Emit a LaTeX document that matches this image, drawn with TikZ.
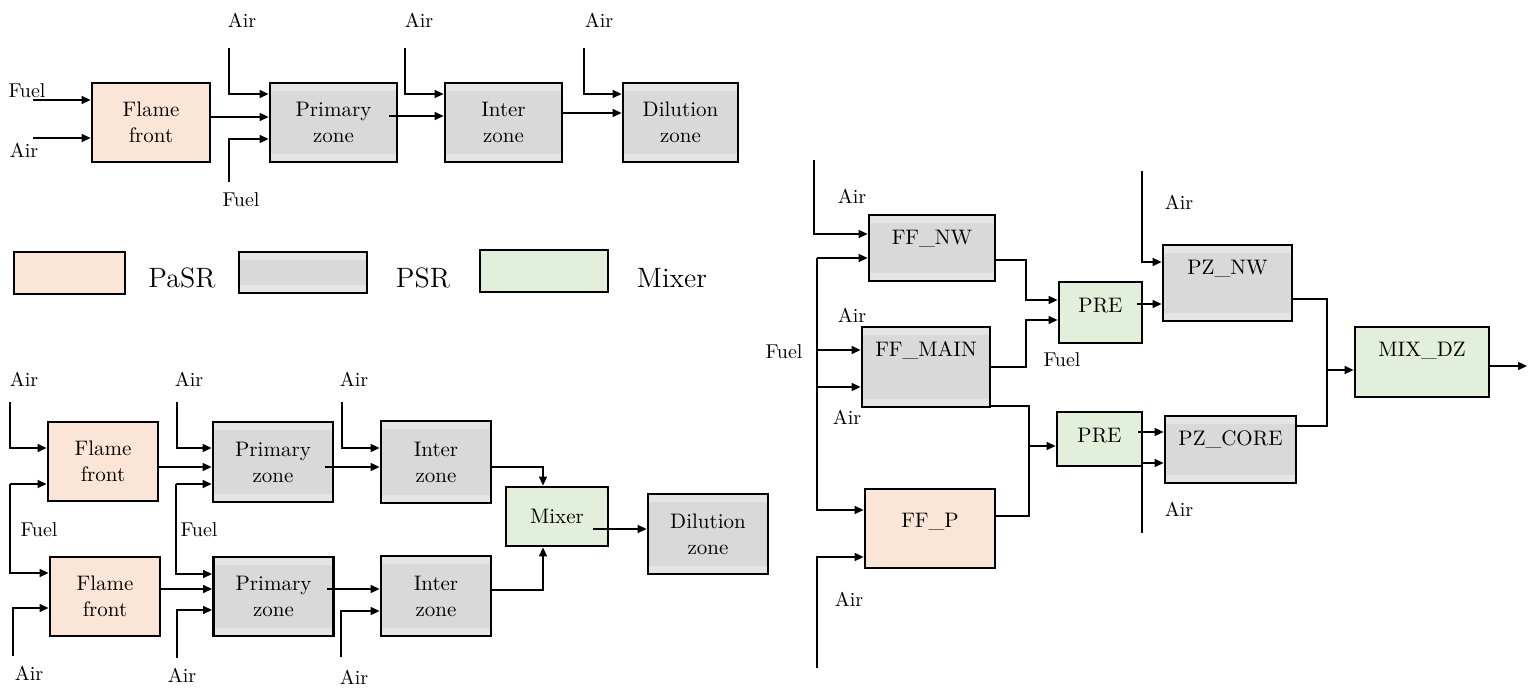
\documentclass[tikz,border=0pt]{standalone}
\usepackage{tikz}
\usetikzlibrary{arrows.meta,calc}

\definecolor{pasrfill}{HTML}{FBE5D6}
\definecolor{psrfill}{HTML}{D9D9D9}
\definecolor{psrband}{HTML}{E5E5E5}
\definecolor{mixfill}{HTML}{E2EFDA}
\newcommand{\boxfont}{\fontsize{10.5}{13}\selectfont}
\newcommand{\tagfont}{\fontsize{10}{12}\selectfont}
\newcommand{\keyfont}{\fontsize{14}{16}\selectfont}

\tikzset{
  unit/.style={draw, line width=1.4pt, inner sep=1pt, align=center, font=\boxfont},
  pasr/.style={unit, fill=pasrfill},
  psr/.style={unit, fill=psrfill, path picture={
      \fill[psrband] (path picture bounding box.north west) rectangle ([yshift=-4pt]path picture bounding box.north east);
      \fill[psrband] (path picture bounding box.south west) rectangle ([yshift=4pt]path picture bounding box.south east);}},
  mixer/.style={unit, fill=mixfill},
  intext/.style={font=\boxfont, anchor=center, yshift=-12.5pt, inner sep=0pt},
  flow/.style={-{Triangle[length=4.5pt,width=4pt]}, line width=0.7pt},
  feed/.style={line width=0.7pt},
  tag/.style={font=\tagfont, inner sep=0pt}
}

\begin{document}
\begin{tikzpicture}[x=0.5pt, y=-0.5pt]
  \useasboundingbox (0,0) rectangle (1529,688);

  % ---------- single chain (top left) ----------
  \node[pasr, minimum width=59pt,   minimum height=39.5pt] (ffA) at (151,122.5)   {Flame\\front};
  \node[psr,  minimum width=63.5pt, minimum height=39.5pt] (pzA) at (333.5,122.5) {Primary\\zone};
  \node[psr,  minimum width=58.5pt, minimum height=39.5pt] (izA) at (503.5,122.5) {Inter\\zone};
  \node[psr,  minimum width=57.5pt, minimum height=39.5pt] (dzA) at (680.5,122.5) {Dilution\\zone};

  \coordinate (fuelA)  at (33,100);
  \coordinate (airA)   at (33,138);
  \coordinate (airA1)  at (229,48);
  \coordinate (fuelA1) at (229,182);
  \coordinate (airA2)  at (405,48);
  \coordinate (airA3)  at (584,48);

  \draw[flow] (fuelA) -- (fuelA -| ffA.west);
  \draw[flow] (airA) -- (airA -| ffA.west);
  \draw[flow] (airA1) |- (pzA.west |- 0,94);
  \draw[flow] (ffA.east |- 0,117) -- (pzA.west |- 0,117);
  \draw[flow] (fuelA1) |- (pzA.west |- 0,139);
  \draw[flow] ($(pzA.east |- 0,116)+(-9,0)$) -- (izA.west |- 0,116);
  \draw[flow] (airA2) |- (izA.west |- 0,94);
  \draw[flow] (izA.east |- 0,113) -- (dzA.west |- 0,113);
  \draw[flow] (airA3) |- (dzA.west |- 0,94);

  \node[tag] (tFuelA)  at (27,91)   {Fuel};
  \node[tag] (tAirA)   at (24,150)  {Air};
  \node[tag] (tAirA1)  at (242,20)  {Air};
  \node[tag] (tFuelA1) at (241,200) {Fuel};
  \node[tag] (tAirA2)  at (419,20)  {Air};
  \node[tag] (tAirA3)  at (599,20)  {Air};

  % ---------- legend ----------
  \node[pasr,  minimum width=55.5pt, minimum height=21pt]   (keyPasr) at (69.5,273)  {};
  \node[font=\keyfont] (keyPasrT) at (182,278) {PaSR};
  \node[psr,   minimum width=64pt,   minimum height=20.5pt] (keyPsr)  at (303,272.5) {};
  \node[font=\keyfont] (keyPsrT) at (423,278) {PSR};
  \node[mixer, minimum width=64pt,   minimum height=21pt]   (keyMix)  at (544,271)   {};
  \node[font=\keyfont] (keyMixT) at (672,278) {Mixer};

  % ---------- two parallel chains (bottom left) ----------
  \node[pasr,  minimum width=55pt, minimum height=39.5pt] (ffB1) at (103,461.5) {Flame\\front};
  \node[pasr,  minimum width=55pt, minimum height=39.5pt] (ffB2) at (105,596.5) {Flame\\front};
  \node[psr,   minimum width=60pt, minimum height=40pt]   (pzB1) at (273,462)   {Primary\\zone};
  \node[psr,   minimum width=60pt, minimum height=39.5pt] (pzB2) at (273.5,596.5) {Primary\\zone};
  \node[psr,   minimum width=55pt, minimum height=41pt]   (izB1) at (436,462)   {Inter\\zone};
  \node[psr,   minimum width=55pt, minimum height=40pt]   (izB2) at (436,596)   {Inter\\zone};
  \node[mixer, minimum width=51pt, minimum height=29.5pt] (mxB)  at (557,516.5) {Mixer};
  \node[psr,   minimum width=60pt, minimum height=40pt]   (dzB)  at (708,534)   {Dilution\\zone};

  \coordinate (airB1)  at (10,402);
  \coordinate (fuelB1) at (10,484);
  \coordinate (airB2)  at (13,656);
  \coordinate (airB3)  at (177,402);
  \coordinate (fuelB2) at (176,484);
  \coordinate (airB4)  at (177,658);
  \coordinate (airB5)  at (342,402);
  \coordinate (airB6)  at (341,657);

  \draw[flow] (airB1) |- (ffB1.west |- 0,448);
  \draw[flow] (fuelB1) -- (ffB1.west |- 0,484);
  \draw[flow] (fuelB1) |- (ffB2.west |- 0,573);
  \draw[flow] (airB2) |- (ffB2.west |- 0,608);
  \draw[flow] (ffB1.east |- 0,467) -- (pzB1.west |- 0,467);
  \draw[flow] (ffB2.east |- 0,589) -- (pzB2.west |- 0,589);
  \draw[flow] (airB3) |- (pzB1.west |- 0,448);
  \draw[flow] (fuelB2) -- (pzB1.west |- 0,484);
  \draw[flow] (fuelB2) |- (pzB2.west |- 0,574);
  \draw[flow] (airB4) |- (pzB2.west |- 0,610);
  \draw[flow] ($(pzB1.east |- 0,467)+(-9,0)$) -- (izB1.west |- 0,467);
  \draw[flow] ($(pzB2.east |- 0,589)+(-8,0)$) -- (izB2.west |- 0,589);
  \draw[flow] (airB5) |- (izB1.west |- 0,448);
  \draw[flow] (airB6) |- (izB2.west |- 0,611);
  \draw[flow] (izB1.east |- 0,467) -| (mxB.north -| 543,0);
  \draw[flow] (izB2.east |- 0,590) -| (mxB.south -| 543,0);
  \draw[flow] ($(mxB.east |- 0,529)+(-16,0)$) -- (dzB.west |- 0,529);

  \node[tag] (tAirB1)  at (24,379)  {Air};
  \node[tag] (tFuelB1) at (39,530)  {Fuel};
  \node[tag] (tAirB2)  at (29,673)  {Air};
  \node[tag] (tAirB3)  at (189,379) {Air};
  \node[tag] (tFuelB2) at (199,530) {Fuel};
  \node[tag] (tAirB4)  at (182,675) {Air};
  \node[tag] (tAirB5)  at (354,379) {Air};
  \node[tag] (tAirB6)  at (354,677) {Air};

  % ---------- reactor network (right) ----------
  \node[psr,   minimum width=63pt,   minimum height=33pt,   label={[intext]north:FF\_NW}]   (ffnw)   at (932,248)    {};
  \node[psr,   minimum width=64pt,   minimum height=40pt,   label={[intext]north:FF\_MAIN}] (ffmain) at (926,367)    {};
  \node[pasr,  minimum width=65pt,   minimum height=39.5pt, label={[intext, yshift=-4.5pt]north:FF\_P}] (ffp) at (930,528.5) {};
  \node[mixer, minimum width=41.5pt, minimum height=30.5pt, label={[intext]north:PRE}]     (pre1)   at (1100.5,312.5) {};
  \node[mixer, minimum width=42.5pt, minimum height=27pt,   label={[intext]north:PRE}]     (pre2)   at (1099.5,439)   {};
  \node[psr,   minimum width=64.5pt, minimum height=38pt,   label={[intext]north:PZ\_NW}]   (pznw)   at (1227.5,283)   {};
  \node[psr,   minimum width=65.5pt, minimum height=33.5pt, label={[intext]north:PZ\_CORE}] (pzcore) at (1230.5,449.5) {};
  \node[mixer, minimum width=67pt,   minimum height=35pt,   label={[intext]north:MIX\_DZ}]  (mixdz)  at (1422,362)     {};

  \coordinate (airR1) at (814,160);
  \coordinate (fuelR) at (817,258);
  \coordinate (airR2) at (817,668);
  \coordinate (airR3) at (1142,171);
  \coordinate (airR4) at (1142,533);
  \coordinate (outR)  at (1527,366);

  \draw[flow] (airR1) |- (ffnw.west |- 0,234);
  \draw[flow] (fuelR) -- (ffnw.west |- 0,258);
  \draw[flow] (fuelR) |- (ffp.west |- 0,510);
  \draw[flow] (fuelR |- 0,350) -- (ffmain.west |- 0,350);
  \draw[flow] (fuelR |- 0,387) -- (ffmain.west |- 0,387);
  \draw[flow] (airR2) |- (ffp.west |- 0,557);

  \draw[flow] (ffnw.east |- 0,260) -| (1026,300) -- (pre1.west |- 0,300);
  \draw[flow] (ffmain.east |- 0,367) -| (1026,320) -- (pre1.west |- 0,320);
  \draw[feed] (ffmain.east |- 0,406) -| (1029,516) -- (ffp.east |- 0,516);
  \draw[flow] (1029,446) -- (pre2.west |- 0,446);

  \draw[flow] ($(pre1.east |- 0,304)+(-6,0)$) -- (pznw.west |- 0,304);
  \draw[flow] (airR3) |- (pznw.west |- 0,262);
  \draw[flow] ($(pre2.east |- 0,432)+(-5,0)$) -- (pzcore.west |- 0,432);
  \draw[flow] (airR4) |- (pzcore.west |- 0,463);

  \draw[feed] (pznw.east |- 0,299) -| (1327,426) -- (pzcore.east |- 0,426);
  \draw[flow] (1327,370) -- (mixdz.west |- 0,370);
  \draw[flow] (mixdz.east |- 0,366) -- (outR);

  \node[tag] (tAirR1)  at (852,196)  {Air};
  \node[tag] (tAirR2)  at (852,315)  {Air};
  \node[tag] (tFuelR)  at (784,352)  {Fuel};
  \node[tag] (tAirR3)  at (847,417)  {Air};
  \node[tag] (tAirR4)  at (849,599)  {Air};
  \node[tag] (tFuelR1) at (1062,360) {Fuel};
  \node[tag] (tAirR5)  at (1179,202) {Air};
  \node[tag] (tAirR6)  at (1179,509) {Air};

\end{tikzpicture}
\end{document}
